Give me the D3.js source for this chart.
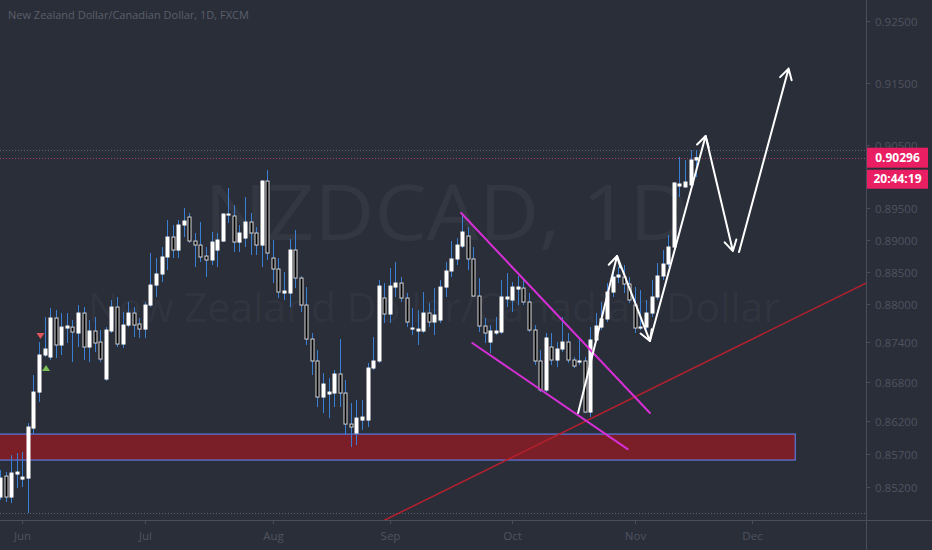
<!DOCTYPE html>
<html><head><meta charset="utf-8">
<script src="https://cdn.jsdelivr.net/npm/d3@7"></script>
<style>html,body{margin:0;padding:0;background:#2a2e39;overflow:hidden}svg{display:block}</style>
</head><body><svg id="c" width="932" height="550"></svg>
<script>
// ---- data ----
const symbolTitle = "New Zealand Dollar/Canadian Dollar, 1D, FXCM";
const watermarkMain = "NZDCAD, 1D";
const watermarkSub = "New Zealand Dollar/Canadian Dollar";
const startIndex = -4; // bar index of first candle (0 = 1 Jun)
const opens = [0.85049,0.85364,0.85049,0.85395,0.85319,0.85334,0.86090,0.86639,0.87207,0.87176,0.87778,0.87361,0.87623,0.87638,0.87546,0.87855,0.87330,0.87577,0.87407,0.86838,0.87577,0.87948,0.87376,0.87669,0.87855,0.87685,0.87607,0.87979,0.88290,0.88462,0.88728,0.89041,0.88837,0.89230,0.89356,0.88978,0.88915,0.88743,0.88681,0.88837,0.88978,0.89387,0.89372,0.88962,0.89025,0.89277,0.89104,0.88915,0.89925,0.88712,0.88540,0.88166,0.88166,0.88837,0.88399,0.87979,0.87453,0.87115,0.86563,0.86609,0.86624,0.86915,0.86624,0.86151,0.86015,0.86212,0.86212,0.87007,0.87115,0.88088,0.87840,0.88259,0.88321,0.88088,0.87607,0.87577,0.87577,0.87855,0.87716,0.87747,0.88259,0.88509,0.88697,0.88899,0.89057,0.88697,0.88119,0.87654,0.87407,0.87546,0.87561,0.88073,0.88057,0.88228,0.88243,0.88026,0.87592,0.87115,0.86670,0.87330,0.87130,0.87299,0.87407,0.87130,0.87099,0.87115,0.86334,0.87438,0.87638,0.87763,0.88181,0.88415,0.88415,0.88306,0.87979,0.87623,0.87638,0.87855,0.88104,0.88431,0.88618,0.88884,0.89846,0.89831,0.89862,0.90259];
const highs = [0.85455,0.85425,0.85681,0.85711,0.85727,0.86166,0.86900,0.87407,0.87794,0.87933,0.87902,0.87855,0.87855,0.87747,0.87979,0.87948,0.87747,0.87794,0.87592,0.87638,0.88057,0.88104,0.87871,0.88026,0.87948,0.87778,0.88026,0.88790,0.88712,0.88884,0.89309,0.89230,0.89309,0.89498,0.89419,0.89104,0.89277,0.88884,0.89120,0.89104,0.89419,0.89815,0.89545,0.89230,0.89672,0.89419,0.89198,0.89941,0.90100,0.88994,0.88712,0.88493,0.89010,0.89151,0.88431,0.88259,0.87546,0.87284,0.86930,0.86853,0.86976,0.87453,0.86823,0.86471,0.86517,0.86517,0.87084,0.87484,0.88368,0.88321,0.88555,0.88650,0.88415,0.88166,0.87933,0.87902,0.88181,0.88010,0.88243,0.88368,0.88650,0.88978,0.89025,0.89419,0.89198,0.88884,0.88399,0.87778,0.87669,0.87794,0.88368,0.88477,0.88337,0.88431,0.88368,0.88166,0.87669,0.87284,0.87546,0.87546,0.87407,0.87794,0.87546,0.87176,0.87484,0.87176,0.87638,0.87855,0.88026,0.88321,0.88571,0.88571,0.88603,0.88415,0.88259,0.88212,0.88057,0.88368,0.88634,0.88837,0.89072,0.89909,0.90307,0.90259,0.90419,0.90419];
const lows = [0.85004,0.84974,0.84959,0.85184,0.85199,0.84810,0.85999,0.86486,0.87176,0.87130,0.87161,0.87207,0.87392,0.87099,0.87330,0.87130,0.87099,0.87253,0.87099,0.86808,0.87546,0.87330,0.87315,0.87638,0.87484,0.87469,0.87469,0.87948,0.88104,0.88337,0.88524,0.88712,0.88712,0.89041,0.88947,0.88571,0.88650,0.88415,0.88603,0.88571,0.88962,0.89262,0.88806,0.88806,0.88884,0.88759,0.88759,0.88571,0.88681,0.88321,0.88088,0.88057,0.87948,0.88243,0.87871,0.87361,0.86900,0.86410,0.86318,0.86242,0.86410,0.86410,0.85984,0.85802,0.85833,0.86060,0.86106,0.86976,0.87084,0.87701,0.87701,0.88104,0.88026,0.87638,0.87515,0.87361,0.87546,0.87638,0.87515,0.87701,0.88104,0.88415,0.88603,0.88868,0.88524,0.88104,0.87561,0.87392,0.87238,0.87515,0.87530,0.87948,0.87871,0.87979,0.87979,0.87561,0.87053,0.86639,0.86639,0.87053,0.87022,0.87253,0.87084,0.87007,0.87053,0.86318,0.86258,0.87407,0.87592,0.87716,0.88104,0.88321,0.88166,0.88010,0.87546,0.87592,0.87592,0.87794,0.88057,0.88368,0.88571,0.88868,0.89672,0.89815,0.89831,0.89989];
const closes = [0.85334,0.85049,0.85410,0.85425,0.85349,0.86106,0.86639,0.87207,0.87299,0.87778,0.87361,0.87638,0.87654,0.87561,0.87855,0.87330,0.87577,0.87392,0.87145,0.87592,0.87948,0.87376,0.87669,0.87855,0.87669,0.87607,0.87979,0.88290,0.88462,0.88728,0.89041,0.88837,0.89230,0.89293,0.88978,0.88915,0.88728,0.88681,0.88962,0.88994,0.89403,0.89403,0.88962,0.89104,0.89277,0.89104,0.88915,0.89925,0.88790,0.88540,0.88181,0.88197,0.88837,0.88399,0.87979,0.87453,0.87115,0.86563,0.86762,0.86639,0.86915,0.86624,0.86151,0.86106,0.86242,0.86258,0.87007,0.87115,0.88274,0.87840,0.88274,0.88321,0.88088,0.87716,0.87623,0.87607,0.87855,0.87716,0.87824,0.88259,0.88509,0.88697,0.88915,0.89120,0.88697,0.88119,0.87654,0.87546,0.87577,0.87577,0.88104,0.88104,0.88259,0.88259,0.88026,0.87592,0.87115,0.86670,0.87469,0.87130,0.87299,0.87407,0.87130,0.87038,0.87115,0.86334,0.87438,0.87654,0.87763,0.88181,0.88415,0.88446,0.88306,0.88057,0.87623,0.87638,0.87855,0.88104,0.88431,0.88618,0.88884,0.89894,0.89878,0.89909,0.90259,0.90296];
const monthLabels = ["Jun","Jul","Aug","Sep","Oct","Nov","Dec"];
const monthStarts = [0,22,45,66,88,110,131];
const priceTicks = [0.925,0.915,0.905,0.895,0.89,0.885,0.88,0.874,0.868,0.862,0.857,0.852];
const lastPrice = 0.90296;
const countdown = "20:44:19";
const signalDownBars = [3];
const signalUpBars = [4];
// drawings, anchored as [bar index, price]
const zoneBox = [[-8,0.85999],[138.8,0.85606]];
const trendLine = [[65.1,0.84705],[151.5,0.88321]];
const wedgeUpper = [[78.8,0.89419],[112.7,0.86320]];
const wedgeLower = [[80.8,0.87392],[108.7,0.85772]];
const pathArrows = [
  [[99.8,0.86318],[106.8,0.88743]],
  [[106.8,0.88743],[112.7,0.87422]],
  [[112.7,0.87422],[122.7,0.90642]],
  [[122.7,0.90642],[127.6,0.88821]],
  [[128.7,0.88806],[137.6,0.91726]]
];

// ---- chart ----
const W = 932, H = 550, plotR = 866, plotB = 520;
const svg = d3.select("#c");
const x = d3.scaleLinear().domain([-4, 151.5]).range([0, plotR]);
const y = d3.scaleLog().domain([0.852, 0.925]).range([487, 21]);

svg.append("rect").attr("width", W).attr("height", H).attr("fill", "#2a2e39");
svg.append("defs").append("clipPath").attr("id", "plot")
  .append("rect").attr("x", 0).attr("y", 0).attr("width", plotR).attr("height", plotB);

const g = svg.append("g").attr("clip-path", "url(#plot)");

// watermark
g.append("text").attr("x", 447).attr("y", 240).attr("text-anchor", "middle")
  .attr("font-family", "Open Sans, sans-serif").attr("font-size", 77)
  .attr("textLength", 485).attr("lengthAdjust", "spacingAndGlyphs")
  .attr("fill", "rgba(255,255,255,0.045)").text(watermarkMain);
g.append("text").attr("x", 434).attr("y", 322).attr("text-anchor", "middle")
  .attr("font-family", "Open Sans, sans-serif").attr("font-size", 40)
  .attr("textLength", 692).attr("lengthAdjust", "spacingAndGlyphs")
  .attr("fill", "rgba(255,255,255,0.045)").text(watermarkSub);

// zone
g.append("rect")
  .attr("x", x(zoneBox[0][0])).attr("y", y(zoneBox[0][1]))
  .attr("width", x(zoneBox[1][0]) - x(zoneBox[0][0]))
  .attr("height", y(zoneBox[1][1]) - y(zoneBox[0][1]))
  .attr("fill", "#7a1e27").attr("stroke", "#5a72d2").attr("stroke-width", 1.3);

// hi/lo dotted lines
const maxHigh = d3.max(highs), minLow = d3.min(lows);
[maxHigh, minLow].forEach(p => {
  g.append("line").attr("x1", 0).attr("x2", plotR)
    .attr("y1", Math.round(y(p)) + 0.5).attr("y2", Math.round(y(p)) + 0.5)
    .attr("stroke", "#5d6170").attr("stroke-dasharray", "1,2");
});
g.append("line").attr("x1", 0).attr("x2", plotR)
  .attr("y1", Math.round(y(lastPrice)) + 0.5).attr("y2", Math.round(y(lastPrice)) + 0.5)
  .attr("stroke", "#a3406f").attr("stroke-dasharray", "1,2");

// candles
const candles = opens.map((o, k) => ({ i: startIndex + k, o, h: highs[k], l: lows[k], c: closes[k] }));
g.append("g").selectAll("line").data(candles).join("line")
  .attr("x1", d => Math.round(x(d.i)) + 0.5).attr("x2", d => Math.round(x(d.i)) + 0.5)
  .attr("y1", d => y(d.h)).attr("y2", d => y(d.l))
  .attr("stroke", "#3a7fd3").attr("stroke-width", 1);
g.append("g").selectAll("rect").data(candles).join("rect")
  .attr("x", d => Math.round(x(d.i)) - 1)
  .attr("width", 3)
  .attr("y", d => y(Math.max(d.o, d.c)))
  .attr("height", d => Math.max(1, y(Math.min(d.o, d.c)) - y(Math.max(d.o, d.c))))
  .attr("fill", d => d.c >= d.o ? "#ffffff" : "#000000")
  .attr("stroke", d => d.c >= d.o ? "#ffffff" : "#d8d8d8")
  .attr("stroke-width", 1);

// signals
signalDownBars.forEach(b => {
  const cx = x(b) + 1.5, cy = y(highs[b - startIndex]) - 6;
  g.append("path").attr("d", `M${cx - 4},${cy - 3}L${cx + 4},${cy - 3}L${cx},${cy + 3}Z`).attr("fill", "#e0545c");
});
signalUpBars.forEach(b => {
  const cx = x(b) + 1.5, cy = y(lows[b - startIndex]) + 11;
  g.append("path").attr("d", `M${cx - 4},${cy + 3}L${cx + 4},${cy + 3}L${cx},${cy - 3}Z`).attr("fill", "#7cc05a");
});

// trend line & wedge
const seg = (pts, color, w) => g.append("line")
  .attr("x1", x(pts[0][0])).attr("y1", y(pts[0][1]))
  .attr("x2", x(pts[1][0])).attr("y2", y(pts[1][1]))
  .attr("stroke", color).attr("stroke-width", w).attr("stroke-linecap", "round");
seg(trendLine, "#b3202e", 1.5);
seg(wedgeUpper, "#d62fd6", 2);
seg(wedgeLower, "#d62fd6", 2);

// arrows
pathArrows.forEach(a => {
  const x0 = x(a[0][0]), y0 = y(a[0][1]), x1 = x(a[1][0]), y1 = y(a[1][1]);
  const ang = Math.atan2(y1 - y0, x1 - x0);
  const L = 12, sp = Math.PI / 6;
  const p = d3.path();
  p.moveTo(x0, y0); p.lineTo(x1, y1);
  p.moveTo(x1 - L * Math.cos(ang - sp), y1 - L * Math.sin(ang - sp));
  p.lineTo(x1, y1);
  p.lineTo(x1 - L * Math.cos(ang + sp), y1 - L * Math.sin(ang + sp));
  g.append("path").attr("d", p.toString()).attr("fill", "none")
    .attr("stroke", "#ffffff").attr("stroke-width", 2).attr("stroke-linecap", "round").attr("stroke-linejoin", "round");
});

// axes
svg.append("line").attr("x1", plotR + 0.5).attr("x2", plotR + 0.5).attr("y1", 0).attr("y2", H)
  .attr("stroke", "#4a4e5a");
svg.append("line").attr("x1", 0).attr("x2", W).attr("y1", plotB + 0.5).attr("y2", plotB + 0.5)
  .attr("stroke", "#4a4e5a");

const fmt = d3.format(".5f");
const ya = svg.append("g");
priceTicks.forEach(p => {
  const yy = Math.round(y(p)) + 0.5;
  ya.append("line").attr("x1", plotR).attr("x2", plotR + 4).attr("y1", yy).attr("y2", yy).attr("stroke", "#4a4e5a");
  ya.append("text").attr("x", 875).attr("y", yy).attr("dy", "0.35em")
    .attr("font-family", "Open Sans, sans-serif").attr("font-size", 11.5)
    .attr("fill", "#4f535f").text(fmt(p));
});
const xa = svg.append("g");
monthStarts.forEach((m, k) => {
  const xx = Math.round(x(m)) + 0.5;
  xa.append("line").attr("x1", xx).attr("x2", xx).attr("y1", plotB).attr("y2", plotB + 4).attr("stroke", "#4a4e5a");
  xa.append("text").attr("x", xx).attr("y", 540).attr("text-anchor", "middle")
    .attr("font-family", "Open Sans, sans-serif").attr("font-size", 11.5)
    .attr("fill", "#4f535f").text(monthLabels[k]);
});

// last price tags
const ly = y(lastPrice);
svg.append("rect").attr("x", 867).attr("y", ly - 10).attr("width", 61).attr("height", 20).attr("fill", "#e91e63");
svg.append("text").attr("x", 897.5).attr("y", ly).attr("dy", "0.35em").attr("text-anchor", "middle")
  .attr("font-family", "Open Sans, sans-serif").attr("font-size", 12).attr("font-weight", "bold")
  .attr("fill", "#ffffff").text(fmt(lastPrice));
svg.append("rect").attr("x", 867).attr("y", ly + 12).attr("width", 61).attr("height", 19).attr("fill", "#e91e63");
svg.append("text").attr("x", 897.5).attr("y", ly + 21.5).attr("dy", "0.35em").attr("text-anchor", "middle")
  .attr("font-family", "Open Sans, sans-serif").attr("font-size", 12).attr("font-weight", "bold")
  .attr("fill", "#ffffff").text(countdown);

// title
svg.append("text").attr("x", 8).attr("y", 19)
  .attr("font-family", "Open Sans, sans-serif").attr("font-size", 11)
  .attr("fill", "#5b5f6b").text(symbolTitle);
</script>
</body></html>
